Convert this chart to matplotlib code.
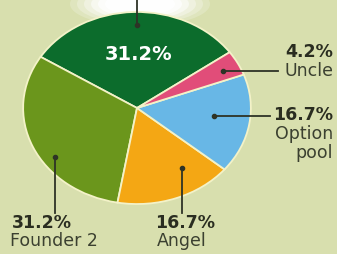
import matplotlib
matplotlib.use("Agg")
import matplotlib.pyplot as plt
from matplotlib.patches import Ellipse

labels = ["Founder 1", "Founder 2", "Angel", "Option pool", "Uncle"]
values = [31.2, 31.2, 16.7, 16.7, 4.2]
colors = ["#0c6c2c", "#6b961c", "#f4a714", "#68b7e6", "#e14d79"]
pct_text = ["31.2%", "31.2%", "16.7%", "16.7%", "4.2%"]

W, H = 337, 254
BG = "#d8dfae"
fig = plt.figure(figsize=(W / 100, H / 100), dpi=100, facecolor=BG)

# background glow axes
bg = fig.add_axes([0, 0, 1, 1])
bg.set_xlim(0, W); bg.set_ylim(H, 0); bg.axis("off")
for i, a in enumerate([0.2, 0.25, 0.35, 0.5, 0.7, 0.9]):
    s = 1.0 - i * 0.1
    bg.add_patch(Ellipse((140, 4), 140 * s, 44 * s, color="white", alpha=a, lw=0))

# pie axes (elliptical)
cx, cy, rx, ry = 137, 108, 115, 97
pax = fig.add_axes([(cx - rx) / W, (H - cy - ry) / H, 2 * rx / W, 2 * ry / H])
pax.pie(values, colors=colors, startangle=35.5, counterclock=True, radius=1,
        wedgeprops=dict(edgecolor="#f3f2c8", linewidth=1.3))
pax.set_aspect("auto")
pax.set_xlim(-1.01, 1.01); pax.set_ylim(-1.01, 1.01)
pax.axis("off")

# overlay
ov = fig.add_axes([0, 0, 1, 1])
ov.set_xlim(0, W); ov.set_ylim(H, 0); ov.axis("off")
ov.patch.set_alpha(0)

lc = "#2e3326"
lines = [((137, 25), (137, 0)), ((223, 71), (278, 71)), ((214, 116), (270, 116)),
         ((55, 157), (55, 213)), ((182, 168), (182, 213))]
for (x0, y0), (x1, y1) in lines:
    ov.plot([x0, x1], [y0, y1], color=lc, lw=1.3)
    ov.plot([x0], [y0], "o", color=lc, ms=3)

fam = "DejaVu Sans"
tc = "#2a2d20"
lab = "#3b4030"
ov.text(138, 54, pct_text[0], color="white", fontsize=14, fontweight="bold",
        ha="center", va="center", family=fam)
ov.text(333, 52, pct_text[4], color=tc, fontsize=12.5, fontweight="bold", ha="right", va="center", family=fam)
ov.text(333, 71, labels[4], color=lab, fontsize=12.5, ha="right", va="center", family=fam)
ov.text(333, 115, pct_text[3], color=tc, fontsize=12.5, fontweight="bold", ha="right", va="center", family=fam)
ov.text(333, 134, "Option", color=lab, fontsize=12.5, ha="right", va="center", family=fam)
ov.text(333, 153, "pool", color=lab, fontsize=12.5, ha="right", va="center", family=fam)
ov.text(12, 223, pct_text[1], color=tc, fontsize=12.5, fontweight="bold", ha="left", va="center", family=fam)
ov.text(10, 241, labels[1], color=lab, fontsize=12.5, ha="left", va="center", family=fam)
ov.text(155, 223, pct_text[2], color=tc, fontsize=12.5, fontweight="bold", ha="left", va="center", family=fam)
ov.text(157, 241, labels[2], color=lab, fontsize=12.5, ha="left", va="center", family=fam)

fig.savefig("out.png", dpi=100, facecolor=BG)
